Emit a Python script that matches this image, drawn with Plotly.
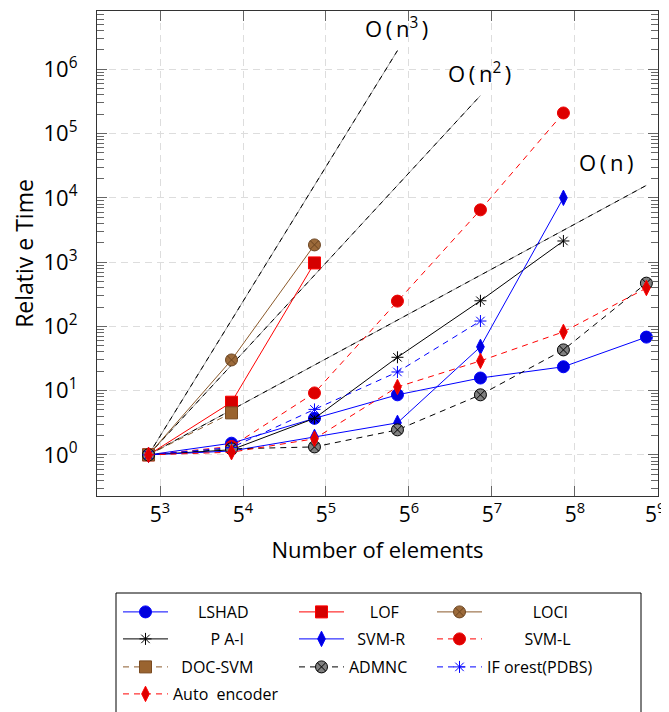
import plotly.graph_objects as go

# ---------------- data ----------------
elements = [100, 500, 2500, 12500, 62500, 312500, 1562500]

lshad = [1, 1.52, 3.7, 8.6, 15.7, 23.5, 68]
lof = [1, 6.6, 970]
loci = [1, 30, 1850]
pa_i = [1, 1.2, 3.7, 33, 250, 2130]
svm_r = [1, 1.15, 1.9, 3.15, 48, 10000]
svm_l = [1, 1.35, 9.2, 247, 6500, 209000]
doc_svm = [1, 4.5]
admnc = [1, 1.24, 1.33, 2.45, 8.6, 43, 470]
iforest = [1, 1.3, 5.1, 19.5, 121]
autoenc = [1, 1.1, 1.78, 11.4, 29, 82, 395]

ref_n_x = [100, 1562500]
ref_n_y = [1, 15625]
ref_n2_x = [100, 62500]
ref_n2_y = [1, 390625]
ref_n3_x = [100, 12500]
ref_n3_y = [1, 1953125]

x_tick_vals = [125, 625, 3125, 15625, 78125, 390625, 1953125]
x_tick_text = ["5<sup>3</sup>", "5<sup>4</sup>", "5<sup>5</sup>", "5<sup>6</sup>",
               "5<sup>7</sup>", "5<sup>8</sup>", "5<sup>9</sup>\u00a0"]
y_tick_vals = [1, 10, 100, 1000, 10000, 100000, 1000000]
y_tick_text = ["10<sup>0</sup>", "10<sup>1</sup>", "10<sup>2</sup>", "10<sup>3</sup>",
               "10<sup>4</sup>", "10<sup>5</sup>", "10<sup>6</sup>"]

# ---------------- geometry helpers ----------------
# page body has an 8px margin, so the figure is shifted by 8px
OFF = 8
W, H = 661, 704
ML, MR, MT, MB = 89, 11, 3, 216
PW = W - ML - MR
PH = H - MT - MB
PLOT_L = OFF + ML
PLOT_B = OFF + H - MB


def px_x(px):
    return (px - PLOT_L) / PW


def px_y(py):
    return (PLOT_B - py) / PH


NB = "\u00a0"
TS = "\u2009"
DASH = "6px,5px"
FONT = "Open Sans"

fig = go.Figure()

# reference complexity lines (gray base + black dashes)
for rx, ry in [(ref_n3_x, ref_n3_y), (ref_n2_x, ref_n2_y), (ref_n_x, ref_n_y)]:
    fig.add_trace(go.Scatter(x=rx, y=ry, mode="lines", showlegend=False,
                             line=dict(color="#9a9a9a", width=1), hoverinfo="skip"))
    fig.add_trace(go.Scatter(x=rx, y=ry, mode="lines", showlegend=False,
                             line=dict(color="black", width=1, dash="5px,5px"), hoverinfo="skip"))

series = [
    # name, values, line color, dash, symbol, size, fill, marker line color, legend col, row, pad
    ("LSHAD", lshad, "#0000ff", "solid", "circle", 12, "#0000dd", "#0000ff", 0, 0, 6),
    ("LOF", lof, "#ff0000", "solid", "square", 12, "#d40000", "#ff0000", 1, 0, 5),
    ("LOCI", loci, "#8b5a2b", "solid", "circle-x", 12, "#9c6a3a", "#6b4420", 2, 0, 11),
    ("P A-I", pa_i, "#000000", "solid", "asterisk-open", 10, "#000000", "#000000", 0, 1, 9),
    ("SVM-R", svm_r, "#0000ff", "solid", "diamond-tall", 11, "#0000dd", "#0000ff", 1, 1, 2),
    ("SVM-L", svm_l, "#ff0000", "dash", "circle", 12, "#dd0000", "#ee0000", 2, 1, 9),
    ("DOC-SVM", doc_svm, "#8b5a2b", "dash", "square", 12, "#9a6430", "#7a4a20", 0, 2, 2),
    ("ADMNC", admnc, "#000000", "dash", "circle-x", 12, "#808080", "#000000", 1, 2, 0),
    ("IF orest(PDBS)", iforest, "#0000ff", "dash", "asterisk-open", 10, "#0000ff", "#0000ff", 2, 2, 0),
    ("Auto  encoder", autoenc, "#ff0000", "dash", "diamond-tall", 11, "#dd0000", "#ff0000", 0, 3, 0),
]

col_px = [123, 299, 437]
row_px = [612, 639, 667, 694]

legend_layouts = {}
for i, (name, vals, lc, dash, sym, size, fill, mlc, col, row, pad) in enumerate(series):
    lkey = "legend" if i == 0 else f"legend{i + 1}"
    fig.add_trace(go.Scatter(
        x=elements[:len(vals)], y=vals, mode="lines+markers",
        name=NB * pad + name.replace(" ", NB),
        line=dict(color=lc, width=1, dash=(DASH if dash == "dash" else "solid")),
        marker=dict(symbol=sym, size=size, color=fill, line=dict(color=mlc, width=1)),
        legend=lkey,
    ))
    legend_layouts[lkey] = dict(
        x=px_x(col_px[col] - 5), y=px_y(row_px[row]),
        xanchor="left", yanchor="middle",
        bgcolor="rgba(0,0,0,0)", borderwidth=0,
        font=dict(size=16, color="black", family=FONT),
        itemwidth=45, orientation="v",
    )

fig.update_layout(**legend_layouts)

# legend frame
fig.add_shape(type="rect", xref="paper", yref="paper",
              x0=px_x(116), x1=px_x(641), y0=px_y(593), y1=px_y(730),
              line=dict(color="black", width=1), fillcolor="rgba(0,0,0,0)", layer="above")

# complexity labels
for txt, pxx, pyy in [("O" + TS + "(" + TS + "n<sup>3</sup>" + TS + ")", 396, 28),
                      ("O" + TS + "(" + TS + "n<sup>2</sup>" + TS + ")", 479, 72),
                      ("O" + TS + "(" + TS + "n" + TS + ")", 606, 162)]:
    fig.add_annotation(text=txt, xref="paper", yref="paper", x=px_x(pxx), y=px_y(pyy),
                       showarrow=False, font=dict(size=22, color="black", family=FONT),
                       xanchor="center", yanchor="middle")

axis_common = dict(
    showline=True, linecolor="#333333", linewidth=1.2, mirror="allticks",
    ticks="inside", tickcolor="#666666", ticklen=10, tickwidth=1,
    showgrid=True, gridcolor="#dddddd", gridwidth=1.3, griddash="7px,5px",
    zeroline=False,
)

fig.update_xaxes(type="log", range=[1.566, 6.2915], tickmode="array",
                 tickvals=x_tick_vals, ticktext=x_tick_text,
                 tickfont=dict(size=21, color="black", family=FONT),
                 ticklabeloverflow="allow",
                 title=dict(text="Number of elements", font=dict(size=22, color="black", family=FONT),
                            standoff=15),
                 **axis_common)
fig.update_yaxes(type="log", range=[-0.64, 6.907], tickmode="array",
                 tickvals=y_tick_vals, ticktext=y_tick_text,
                 tickfont=dict(size=22, color="black", family=FONT),
                 minor=dict(ticks="inside", ticklen=7, tickcolor="#666666", dtick="D1", showgrid=False),
                 ticklabelstandoff=14,
                 title=dict(text="Relativ e Time", font=dict(size=23, color="black", family=FONT),
                            standoff=8),
                 **axis_common)

fig.update_layout(
    width=W, height=H,
    margin=dict(l=ML, r=MR, t=MT, b=MB, autoexpand=False),
    plot_bgcolor="white", paper_bgcolor="white",
    font=dict(family=FONT, color="black"),
)

fig.write_html("out.html")
